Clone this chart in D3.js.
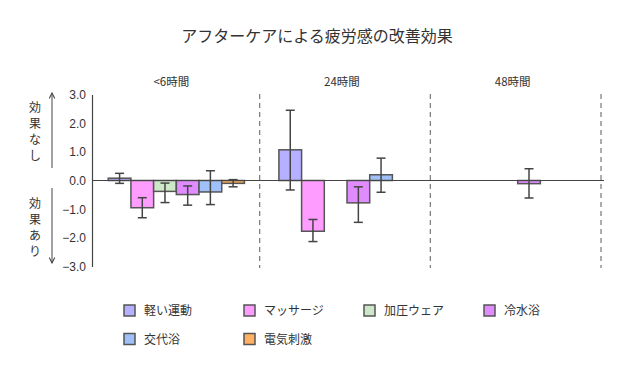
<!DOCTYPE html>
<html>
<head>
<meta charset="utf-8">
<script src="https://cdn.jsdelivr.net/npm/d3@7"></script>
<style>
  body { margin: 0; background: #fff; }
  text { font-family: "Noto Sans CJK JP", "Noto Sans", sans-serif; fill: #333; }
</style>
</head>
<body>
<script>
// chart size
var w = 638, h = 373;

// time groups and treatments
var groups = ["<6時間", "24時間", "48時間"];
var treatments = ["軽い運動", "マッサージ", "加圧ウェア", "冷水浴", "交代浴", "電気刺激"];
var colors = ["#b5b0ff", "#ff9cff", "#cde8c8", "#e08cff", "#a0c0f8", "#ffb060"];

// mean effect per group (null = no data), and error bar ends
var means = [
    [0.08, -0.95, -0.38, -0.49, -0.40, -0.10],
    [1.07, -1.77, null, -0.78, 0.20, null],
    [null, null, null, -0.11, null, null]
];
var lows = [
    [-0.10, -1.30, -0.77, -0.86, -0.84, -0.22],
    [-0.33, -2.13, null, -1.46, -0.41, null],
    [null, null, null, -0.61, null, null]
];
var highs = [
    [0.25, -0.60, -0.09, -0.19, 0.34, 0.03],
    [2.45, -1.36, null, -0.22, 0.78, null],
    [null, null, null, 0.41, null, null]
];
var yTicks = [3, 2, 1, 0, -1, -2, -3];

var svg = d3.select("body").append("svg")
    .attr("width", w)
    .attr("height", h);

// scales
var x = d3.scaleBand()
    .domain(groups)
    .range([90, 602]);

var y = d3.scaleLinear()
    .domain([-3, 3])
    .range([266.5, 94.5]);

var barW = 22.7;
var xb = d3.scaleBand()
    .domain(treatments)
    .range([0, barW * treatments.length]);

function barX(gi, ti) {
    var g = groups[gi];
    return x(g) + x.bandwidth() / 2 - xb.range()[1] / 2 + xb(treatments[ti]) + 1;
}

// title
svg.append("text")
    .attr("x", 317)
    .attr("y", 42)
    .attr("text-anchor", "middle")
    .style("font-size", "16px")
    .text("アフターケアによる疲労感の改善効果");

// y axis
var yAxis = d3.axisLeft(y)
    .tickValues(yTicks)
    .tickSize(0)
    .tickPadding(6)
    .tickFormat(d3.format(".1f"));

var axis = svg.append("g")
    .attr("transform", "translate(92,0)")
    .call(yAxis);
axis.select(".domain").attr("stroke", "#444").attr("stroke-width", 1.2);
axis.selectAll("text")
    .style("font-size", "12px")
    .style("font-family", "'Liberation Sans', Arial, sans-serif")
    .attr("fill", "#333");

// dashed separators
svg.selectAll(".sep")
    .data(groups)
    .enter()
    .append("line")
    .attr("class", "sep")
    .attr("x1", function(d) { return x(d) + x.bandwidth() - 1; })
    .attr("x2", function(d) { return x(d) + x.bandwidth() - 1; })
    .attr("y1", 94)
    .attr("y2", 268)
    .attr("stroke", "#777")
    .attr("stroke-width", 1.2)
    .attr("stroke-dasharray", "5,4");

// group labels
svg.selectAll(".glabel")
    .data(groups)
    .enter()
    .append("text")
    .attr("class", "glabel")
    .attr("x", function(d) { return x(d) + x.bandwidth() / 2 - 4; })
    .attr("y", 86)
    .attr("text-anchor", "middle")
    .style("font-size", "11.5px")
    .text(function(d) { return d; });

// flatten data for bars
var rows = [];
groups.forEach(function(g, gi) {
    treatments.forEach(function(t, ti) {
        if (means[gi][ti] !== null) {
            rows.push({ gi: gi, ti: ti, v: means[gi][ti], lo: lows[gi][ti], hi: highs[gi][ti] });
        }
    });
});

// bars
svg.selectAll(".bar")
    .data(rows)
    .enter()
    .append("rect")
    .attr("class", "bar")
    .attr("x", function(d) { return barX(d.gi, d.ti); })
    .attr("width", xb.bandwidth())
    .attr("y", function(d) { return y(Math.max(0, d.v)); })
    .attr("height", function(d) { return Math.abs(y(d.v) - y(0)); })
    .attr("fill", function(d) { return colors[d.ti]; })
    .attr("stroke", "#555")
    .attr("stroke-width", 1.5);

// zero line
svg.append("line")
    .attr("x1", 92)
    .attr("x2", 604)
    .attr("y1", y(0))
    .attr("y2", y(0))
    .attr("stroke", "#444")
    .attr("stroke-width", 1.2);

// error bars
var eb = svg.selectAll(".err")
    .data(rows)
    .enter()
    .append("g")
    .attr("class", "err")
    .attr("stroke", "#444")
    .attr("stroke-width", 1.5);

eb.append("line")
    .attr("x1", function(d) { return barX(d.gi, d.ti) + xb.bandwidth() / 2; })
    .attr("x2", function(d) { return barX(d.gi, d.ti) + xb.bandwidth() / 2; })
    .attr("y1", function(d) { return y(d.hi); })
    .attr("y2", function(d) { return y(d.lo); });

["hi", "lo"].forEach(function(k) {
    eb.append("line")
        .attr("x1", function(d) { return barX(d.gi, d.ti) + xb.bandwidth() / 2 - 4.5; })
        .attr("x2", function(d) { return barX(d.gi, d.ti) + xb.bandwidth() / 2 + 4.5; })
        .attr("y1", function(d) { return y(d[k]); })
        .attr("y2", function(d) { return y(d[k]); });
});

// side arrows
var defs = svg.append("defs");
defs.append("marker")
    .attr("id", "arr")
    .attr("viewBox", "0 0 10 10")
    .attr("refX", 9)
    .attr("refY", 5)
    .attr("markerWidth", 7)
    .attr("markerHeight", 7)
    .attr("orient", "auto")
    .append("path")
    .attr("d", "M1,1 L9,5 L1,9")
    .attr("fill", "none")
    .attr("stroke", "#444")
    .attr("stroke-width", 1.5);

svg.append("line")
    .attr("x1", 52).attr("x2", 52)
    .attr("y1", 168).attr("y2", 93)
    .attr("stroke", "#444").attr("stroke-width", 1)
    .attr("marker-end", "url(#arr)");
svg.append("line")
    .attr("x1", 52).attr("x2", 52)
    .attr("y1", 188).attr("y2", 263)
    .attr("stroke", "#444").attr("stroke-width", 1)
    .attr("marker-end", "url(#arr)");

// vertical side labels
var sideLabels = [
    { chars: "効果なし", y0: 107 },
    { chars: "効果あり", y0: 203 }
];
sideLabels.forEach(function(s) {
    s.chars.split("").forEach(function(c, i) {
        svg.append("text")
            .attr("x", 35)
            .attr("y", s.y0 + i * 16 + 5)
            .attr("text-anchor", "middle")
            .style("font-size", "12px")
            .text(c);
    });
});

// legend
var legend = svg.selectAll(".leg")
    .data(treatments)
    .enter()
    .append("g")
    .attr("class", "leg")
    .attr("transform", function(d, i) {
        return "translate(" + (124 + (i % 4) * 120) + "," + (305 + Math.floor(i / 4) * 28.5) + ")";
    });

legend.append("rect")
    .attr("width", 11)
    .attr("height", 11)
    .attr("fill", function(d, i) { return colors[i]; })
    .attr("stroke", "#555")
    .attr("stroke-width", 1.5);

legend.append("text")
    .attr("x", 20)
    .attr("y", 10)
    .style("font-size", "12px")
    .text(function(d) { return d; });
</script>
</body>
</html>
